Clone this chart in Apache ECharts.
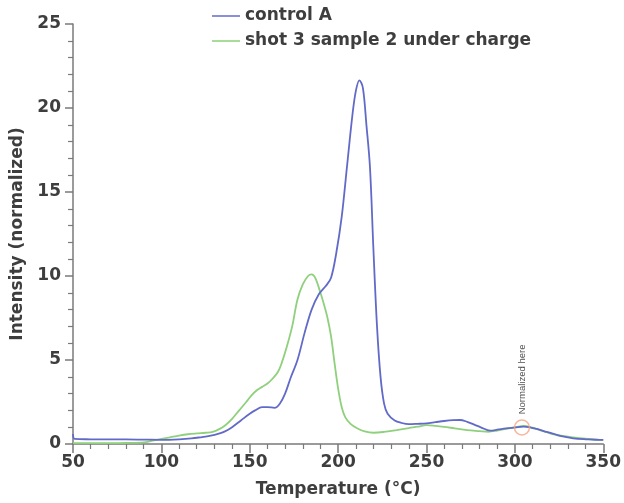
<!DOCTYPE html>
<html>
<head>
<meta charset="utf-8">
<script src="https://cdn.jsdelivr.net/npm/echarts@6/dist/echarts.min.js"></script>
<style>
html,body{margin:0;padding:0;background:#fff;}
#chart{width:624px;height:503px;}
</style>
</head>
<body>
<div id="chart"></div>
<script>
const seriesNames = ['control A', 'shot 3 sample 2 under charge'];

const controlA = [
[50,0.6],[51,0.3],[60,0.28],[70,0.27],[80,0.27],[90,0.26],[100,0.25],[110,0.28],[117,0.33],[122,0.4],[128,0.5],[132,0.6],[136,0.75],[140,1.0],[145,1.4],[150,1.8],[153,2.0],[157,2.2],[160,2.2],[164,2.15],[167,2.4],[170,3.0],[173,3.9],[177,5.0],[181,6.6],[185,8.0],[189,8.9],[193,9.4],[196,9.9],[199,11.4],[202,13.5],[205,16.5],[208,19.5],[210,21.0],[212,21.65],[214,21.2],[216,19.0],[218,16.5],[220,11.5],[222,7.0],[224,4.0],[226,2.4],[228,1.8],[232,1.4],[236,1.25],[240,1.18],[245,1.2],[250,1.23],[255,1.3],[260,1.37],[265,1.42],[269,1.43],[273,1.32],[277,1.15],[281,0.98],[286,0.8],[290,0.85],[295,0.93],[300,0.98],[305,1.03],[309,0.98],[313,0.88],[318,0.72],[322,0.6],[327,0.45],[333,0.34],[340,0.28],[348,0.24],[350,0.24]
];

const shot3 = [
[50,0.05],[60,0.05],[70,0.05],[80,0.06],[90,0.1],[95,0.2],[100,0.3],[105,0.4],[110,0.5],[115,0.58],[120,0.63],[125,0.67],[129,0.72],[133,0.9],[136,1.1],[140,1.5],[144,2.0],[148,2.5],[151,2.9],[154,3.2],[157,3.4],[160,3.6],[163,3.9],[166,4.3],[168,4.8],[171,5.8],[174,7.0],[177,8.6],[180,9.5],[183,10.0],[185,10.1],[187,9.9],[190,9.0],[192,8.3],[194,7.5],[196,6.4],[198,4.8],[200,3.3],[202,2.2],[204,1.6],[207,1.2],[211,0.92],[215,0.75],[220,0.67],[226,0.72],[233,0.83],[240,0.95],[245,1.03],[250,1.12],[255,1.08],[260,1.02],[266,0.93],[273,0.83],[280,0.77],[285,0.73],[290,0.8],[295,0.9],[300,1.0],[305,1.07],[310,0.97],[314,0.83],[318,0.7],[322,0.58],[327,0.48],[333,0.4],[340,0.32],[348,0.25],[350,0.24]
];

const normPoint = [[304, 0.98]];
const normText = 'Normalized here';

const xTitle = 'Temperature (°C)';
const yTitle = 'Intensity (normalized)';

const axisColor = '#7a7a7a';
const textColor = '#3e3e3e';
const font = 'DejaVu Sans';

const chart = echarts.init(document.getElementById('chart'), null, {renderer:'canvas'});
chart.setOption({
  animation: false,
  backgroundColor: '#fff',
  grid: {left: 73, right: 16, top: 24, bottom: 59, containLabel: false},
  legend: {
    data: seriesNames,
    orient: 'vertical',
    left: 207, top: 2,
    icon: 'rect',
    itemWidth: 28, itemHeight: 2, itemGap: 7,
    textStyle: {fontFamily: font, fontWeight: 'bold', fontSize: 17, color: textColor, lineHeight: 18}
  },
  xAxis: {
    type: 'value', min: 50, max: 350, interval: 50,
    name: xTitle, nameLocation: 'middle', nameGap: 37,
    nameTextStyle: {fontFamily: font, fontWeight: 'bold', fontSize: 17, color: textColor},
    axisLine: {show: true, onZero: false, lineStyle: {color: axisColor, width: 1.5}},
    axisTick: {show: true, length: 9, lineStyle: {color: axisColor, width: 1.5}},
    minorTick: {show: true, splitNumber: 5, length: 5, lineStyle: {color: axisColor, width: 1.2}},
    axisLabel: {margin: 10, fontFamily: font, fontWeight: 'bold', fontSize: 17, color: textColor},
    splitLine: {show: false}
  },
  yAxis: {
    type: 'value', min: 0, max: 25, interval: 5,
    name: yTitle, nameLocation: 'middle', nameGap: 38, nameRotate: 90,
    nameTextStyle: {fontFamily: font, fontWeight: 'bold', fontSize: 17, color: textColor},
    axisLine: {show: true, onZero: false, lineStyle: {color: axisColor, width: 1.5}},
    axisTick: {show: true, length: 8, lineStyle: {color: axisColor, width: 1.5}},
    minorTick: {show: true, splitNumber: 5, length: 5, lineStyle: {color: axisColor, width: 1.2}},
    axisLabel: {margin: 12, fontFamily: font, fontWeight: 'bold', fontSize: 17, color: textColor},
    splitLine: {show: false}
  },
  series: [
    {
      name: seriesNames[0], type: 'line', data: controlA,
      symbol: 'none', smooth: 0.35,
      lineStyle: {color: '#626ac8', width: 1.8}, itemStyle: {color: '#8990d6'}, z: 3
    },
    {
      name: seriesNames[1], type: 'line', data: shot3,
      symbol: 'none', smooth: 0.35,
      lineStyle: {color: '#8fd07c', width: 1.8}, itemStyle: {color: '#a8dc98'}, z: 2
    },
    {
      name: 'norm', type: 'scatter', data: normPoint, silent: true,
      symbol: 'circle', symbolSize: 15, z: 4,
      itemStyle: {color: 'rgba(0,0,0,0)', borderColor: '#f2a486', borderWidth: 1.5},
      label: {
        show: true, formatter: normText, position: 'top', distance: 5,
        rotate: 90, align: 'left', verticalAlign: 'middle',
        fontFamily: 'Liberation Sans', fontSize: 9.5, color: '#1a1a1a'
      }
    }
  ]
});
</script>
</body>
</html>
